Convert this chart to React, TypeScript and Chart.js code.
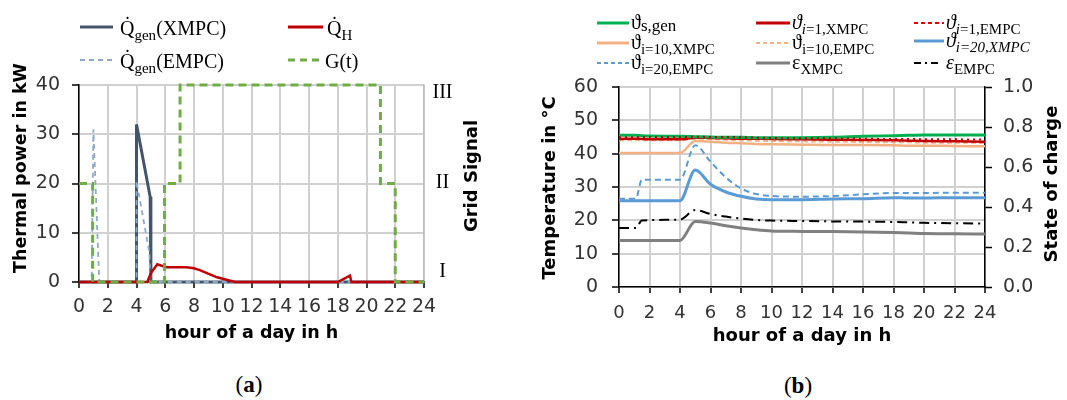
import React, { useEffect, useRef } from "react";
import { Chart, registerables } from "chart.js";

Chart.register(...registerables);

const SANS = "'DejaVu Sans', sans-serif";
const SERIF = "'Liberation Serif', 'DejaVu Serif', serif";

// ---------------- Panel (a): thermal power and grid signal ----------------
const qGenXmpcHours = [0, 4, 4, 4.95, 5.0, 24];
const qGenXmpcKW = [0, 0, 32, 17.3, 0, 0];

const qGenEmpcHours = [0, 0.88, 1.0, 1.41, 4.0, 4.0, 4.9, 4.95, 24];
const qGenEmpcKW = [0, 0, 31, 0, 0, 20.5, 5.9, 0, 0];

const qHHours = [0, 4.75, 5.0, 5.45, 6.05, 7.45, 8.0, 8.4, 8.9, 9.6, 10.2, 10.85, 18.0, 18.85, 18.95, 24];
const qHKW = [0, 0, 1.8, 3.6, 3.0, 3.0, 2.8, 2.4, 1.8, 0.95, 0.5, 0, 0, 1.3, 0, 0];

const gridSignalHours = [0, 0.95, 5.95, 7.03, 20.97, 22.0, 24];
const gridSignalLevel = [2, 1, 2, 3, 2, 1, 1];
const gridSignalLabels = ["I", "II", "III"];

// ---------------- Panel (b): temperatures and state of charge ----------------
const hoursB = [0, 1.1, 1.5, 4, 5, 6, 7, 8, 9, 10, 12, 14, 16, 18, 19, 20, 22, 24];
const tSGen = [45.5, 45.5, 45.4, 45.2, 45.1, 45.0, 44.9, 44.9, 44.8, 44.8, 44.8, 44.9, 45.2, 45.4, 45.5, 45.6, 45.6, 45.6];
const tI1Xmpc = [44.4, 44.5, 44.4, 44.3, 44.8, 44.7, 44.6, 44.5, 44.5, 44.4, 44.3, 44.2, 44.1, 44.0, 43.9, 43.8, 43.7, 43.6];
const tI1Empc = [44.9, 44.9, 44.9, 44.9, 45.1, 45.0, 45.0, 44.9, 44.8, 44.7, 44.6, 44.6, 44.5, 44.4, 44.4, 44.3, 44.3, 44.2];
const tI10Xmpc = [40.2, 40.2, 40.2, 40.2, 43.8, 43.6, 43.3, 43.1, 42.9, 42.8, 42.7, 42.6, 42.6, 42.5, 42.4, 42.4, 42.3, 42.2];
const tI10Empc = [44.0, 44.0, 44.0, 44.0, 44.5, 44.4, 44.2, 44.0, 43.9, 43.8, 43.7, 43.6, 43.5, 43.4, 43.4, 43.3, 43.3, 43.2];
const tI20Xmpc = [25.9, 25.9, 25.9, 25.9, 35.1, 30.8, 28.5, 27.2, 26.4, 26.2, 26.2, 26.4, 26.5, 26.8, 26.7, 26.7, 26.8, 26.8];
const tI20Empc = [26.5, 26.5, 32.2, 32.2, 42.5, 37.6, 32.9, 29.6, 27.9, 27.3, 27.1, 27.3, 27.8, 28.2, 28.2, 28.2, 28.3, 28.3];
const socXmpc = [0.233, 0.233, 0.233, 0.233, 0.328, 0.32, 0.306, 0.295, 0.286, 0.28, 0.278, 0.277, 0.275, 0.272, 0.27, 0.267, 0.266, 0.265];
const socEmpc = [0.295, 0.295, 0.333, 0.337, 0.385, 0.365, 0.352, 0.342, 0.335, 0.332, 0.33, 0.328, 0.327, 0.325, 0.323, 0.321, 0.319, 0.317];

const pts = (xs: number[], ys: number[]) => xs.map((x, i) => ({ x, y: ys[i] }));

type RotTitle = { scale: string; side: "left" | "right"; text: string; size: number; offset: number; dy: number };
const rotTitles = (titles: RotTitle[]) => ({
  id: "rotTitles",
  afterDraw(chart: any) {
    const ctx = chart.ctx;
    const ca = chart.chartArea;
    titles.forEach((t) => {
      const s = chart.scales[t.scale];
      const x = t.side === "left" ? s.left + t.offset : s.right - t.offset;
      const y = (ca.top + ca.bottom) / 2 + t.dy;
      ctx.save();
      ctx.translate(x, y);
      ctx.rotate(-Math.PI / 2);
      ctx.font = `bold ${t.size}px ${SANS}`;
      ctx.fillStyle = "#000";
      ctx.textAlign = "center";
      ctx.textBaseline = "middle";
      ctx.fillText(t.text, 0, 0);
      ctx.restore();
    });
  },
});

const GRID = "#d0d0d0";
const GRID_W = 2;
const TICK = "#333";

function configA(): any {
  return {
    type: "line",
    data: {
      datasets: [
        { label: "G(t)", data: pts(gridSignalHours, gridSignalLevel), yAxisID: "y2", stepped: true, borderColor: "#70ad47", borderWidth: 3, borderDash: [8, 5], pointRadius: 0, clip: false },
        { label: "QH", data: pts(qHHours, qHKW), yAxisID: "y", borderColor: "#c00000", borderWidth: 2.5, pointRadius: 0, clip: false },
        { label: "Qgen(EMPC)", data: pts(qGenEmpcHours, qGenEmpcKW), yAxisID: "y", borderColor: "#8ea9c9", borderWidth: 1.8, borderDash: [5, 4], pointRadius: 0, clip: false },
        { label: "Qgen(XMPC)", data: pts(qGenXmpcHours, qGenXmpcKW), yAxisID: "y", borderColor: "#44546a", borderWidth: 3, pointRadius: 0, clip: false },
      ],
    },
    options: {
      animation: false,
      responsive: false,
      devicePixelRatio: 1,
      layout: { padding: { top: 85, left: 0, right: 16, bottom: 0 } },
      plugins: { legend: { display: false }, tooltip: { enabled: false } },
      scales: {
        x: {
          type: "linear", min: 0, max: 24,
          ticks: { stepSize: 2, font: { family: SANS, size: 19 }, color: TICK, padding: 7.5, maxRotation: 0 },
          grid: { display: true, drawOnChartArea: true, color: GRID, lineWidth: GRID_W, tickColor: "#000", tickWidth: 1.5, tickLength: 6 },
          border: { color: "#000", width: 1.5 },
          title: { display: true, text: "hour of a day in h", font: { family: SANS, size: 17.5, weight: "bold" }, color: "#000", padding: { top: 0, bottom: 6.5 } },
          afterFit: (s: any) => { s.height = 68; },
        },
        y: {
          position: "left", min: 0, max: 40,
          ticks: { stepSize: 5, font: { family: SANS, size: 19 }, color: TICK, padding: 12 },
          grid: { display: true, drawOnChartArea: true, color: GRID, lineWidth: GRID_W, tickColor: "#000", tickWidth: 1.5, tickLength: 7 },
          border: { color: "#000", width: 1.5 },
          afterFit: (s: any) => { s.width = 79; },
        },
        y1: {
          position: "right", min: 0.888, max: 3.089,
          afterBuildTicks: (s: any) => { s.ticks = [{ value: 1 }, { value: 2 }, { value: 3 }]; },
          ticks: { font: { family: SERIF, size: 20 }, color: "#000", padding: 8.5, crossAlign: "center", callback: (v: number) => gridSignalLabels[Math.round(v) - 1] },
          grid: { drawOnChartArea: false, drawTicks: false },
          border: { color: "#bfbfbf", width: 1.5 },
          afterFit: (s: any) => { s.width = 60; },
        },
        y2: { display: false, min: 1, max: 3 },
      },
    },
    plugins: [rotTitles([
      { scale: "y", side: "left", text: "Thermal power in kW", size: 17.5, offset: 21, dy: -15.5 },
      { scale: "y1", side: "right", text: "Grid Signal", size: 18, offset: 12, dy: -7.5 },
    ])],
  };
}

function configB(): any {
  const ds = (label: string, ys: number[], color: string, width: number, dash: number[], axis = "y") => ({
    label, data: pts(hoursB, ys), yAxisID: axis, borderColor: color, borderWidth: width, borderDash: dash,
    pointRadius: 0, cubicInterpolationMode: "monotone", clip: false,
  });
  return {
    type: "line",
    data: {
      datasets: [
        ds("eps EMPC", socEmpc, "#000000", 2, [10, 5, 2, 5], "y1"),
        ds("i=1 EMPC", tI1Empc, "#c00000", 2, [2, 4]),
        ds("s,gen", tSGen, "#00b050", 3, []),
        ds("i=1 XMPC", tI1Xmpc, "#c00000", 2.5, []),
        ds("i=10 EMPC", tI10Empc, "#f4b183", 2, [5, 3]),
        ds("i=10 XMPC", tI10Xmpc, "#f4b183", 2.5, []),
        ds("i=20 EMPC", tI20Empc, "#5b9bd5", 2, [6, 4]),
        ds("i=20 XMPC", tI20Xmpc, "#5b9bd5", 3, []),
        ds("eps XMPC", socXmpc, "#808080", 3, [], "y1"),
      ],
    },
    options: {
      animation: false,
      responsive: false,
      devicePixelRatio: 1,
      layout: { padding: { top: 87, left: 0, right: 0, bottom: 0 } },
      plugins: { legend: { display: false }, tooltip: { enabled: false } },
      scales: {
        x: {
          type: "linear", min: 0, max: 24,
          ticks: { stepSize: 2, font: { family: SANS, size: 18 }, color: TICK, padding: 10, maxRotation: 0 },
          grid: { display: true, drawOnChartArea: true, color: GRID, lineWidth: GRID_W, tickColor: "#000", tickWidth: 1.5, tickLength: 6 },
          border: { color: "#000", width: 1.5 },
          title: { display: true, text: "hour of a day in h", font: { family: SANS, size: 18, weight: "bold" }, color: "#000", padding: { top: 0, bottom: 13 } },
          afterFit: (s: any) => { s.height = 73; },
        },
        y: {
          position: "left", min: 0, max: 60,
          ticks: { stepSize: 10, font: { family: SANS, size: 19 }, color: TICK, padding: 14 },
          grid: { display: true, drawOnChartArea: true, color: GRID, lineWidth: GRID_W, tickColor: "#000", tickWidth: 1.5, tickLength: 7 },
          border: { color: "#000", width: 1.5 },
          afterFit: (s: any) => { s.width = 89; },
        },
        y1: {
          position: "right", min: 0, max: 1,
          ticks: { stepSize: 0.2, font: { family: SANS, size: 19 }, color: TICK, padding: 11, callback: (v: number) => v.toFixed(1) },
          grid: { drawOnChartArea: false, tickColor: "#000", tickWidth: 1.5, tickLength: 7 },
          border: { color: "#000", width: 1.5 },
          afterFit: (s: any) => { s.width = 82; },
        },
      },
    },
    plugins: [rotTitles([
      { scale: "y", side: "left", text: "Temperature in °C", size: 18, offset: 20, dy: 1 },
      { scale: "y1", side: "right", text: "State of charge", size: 18, offset: 15, dy: -3 },
    ])],
  };
}

const Sample = ({ x, y, w, color, lw, dash }: { x: number; y: number; w: number; color: string; lw: number; dash?: string }) => (
  <svg style={{ position: "absolute", left: x, top: y - 6 }} width={w} height={12}>
    <line x1={0} y1={6} x2={w} y2={6} stroke={color} strokeWidth={lw} strokeDasharray={dash} />
  </svg>
);

const Label = ({ x, y, size, children }: { x: number; y: number; size: number; children: any }) => (
  <div style={{ position: "absolute", left: x, top: y - 13, height: 26, lineHeight: "26px", fontFamily: SERIF, fontSize: size, whiteSpace: "nowrap", color: "#000" }}>
    {children}
  </div>
);

const Sub = ({ size, children }: { size: number; children: any }) => (
  <span style={{ fontSize: size, position: "relative", top: 5 }}>{children}</span>
);

export default function App() {
  const refA = useRef<HTMLCanvasElement>(null);
  const refB = useRef<HTMLCanvasElement>(null);

  useEffect(() => {
    document.body.style.margin = "0";
    const a = new Chart(refA.current as HTMLCanvasElement, configA());
    const b = new Chart(refB.current as HTMLCanvasElement, configB());
    return () => {
      a.destroy();
      b.destroy();
    };
  }, []);

  return (
    <div style={{ position: "relative", width: 1067, height: 400, background: "#fff", overflow: "hidden" }}>
      <canvas ref={refA} width={500} height={350} style={{ position: "absolute", left: 0, top: 0, width: 500, height: 350 }} />
      <canvas ref={refB} width={537} height={360} style={{ position: "absolute", left: 530, top: 0, width: 537, height: 360 }} />

      {/* Legend (a) */}
      <Sample x={80} y={27} w={33} color="#44546a" lw={3} />
      <Label x={120} y={28} size={20}>Q&#775;<Sub size={15}>gen</Sub>(XMPC)</Label>
      <Sample x={288} y={27} w={35} color="#c00000" lw={3} />
      <Label x={327} y={28} size={20}>Q&#775;<Sub size={15}>H</Sub></Label>
      <Sample x={80} y={60} w={35} color="#8ea9c9" lw={2} dash="5,4" />
      <Label x={120} y={61} size={20}>Q&#775;<Sub size={15}>gen</Sub>(EMPC)</Label>
      <Sample x={288} y={60} w={34} color="#70ad47" lw={3} dash="7,5" />
      <Label x={325} y={61} size={20}>G(t)</Label>

      {/* Legend (b) */}
      <Sample x={597} y={23} w={32} color="#00b050" lw={3} />
      <Label x={631} y={22} size={20}>ϑ<span style={{ fontSize: 17, position: "relative", top: 2 }}>s,gen</span></Label>
      <Sample x={756} y={23} w={34} color="#c00000" lw={3} />
      <Label x={792} y={22} size={20}><i>ϑ</i><Sub size={15}><i>i</i>=1,XMPC</Sub></Label>
      <Sample x={914} y={23} w={30} color="#e00000" lw={2} dash="4,3" />
      <Label x={946} y={22} size={20}><i>ϑ</i><Sub size={15}><i>i</i>=1,EMPC</Sub></Label>

      <Sample x={597} y={43} w={32} color="#f4b183" lw={3} />
      <Label x={631} y={42} size={20}>ϑ<Sub size={15}>i=10,XMPC</Sub></Label>
      <Sample x={756} y={43} w={34} color="#f4b183" lw={2} dash="4,3" />
      <Label x={792} y={42} size={20}>ϑ<Sub size={15}>i=10,EMPC</Sub></Label>
      <Sample x={914} y={41} w={30} color="#5b9bd5" lw={3} />
      <Label x={946} y={40} size={20}><i>ϑ</i><Sub size={15}><i>i=20,XMPC</i></Sub></Label>

      <Sample x={597} y={63} w={32} color="#5b9bd5" lw={2} dash="4,3" />
      <Label x={631} y={62} size={20}>ϑ<Sub size={15}>i=20,EMPC</Sub></Label>
      <Sample x={756} y={63} w={34} color="#808080" lw={3} />
      <Label x={792} y={62} size={20}>ε<Sub size={15}>XMPC</Sub></Label>
      <Sample x={914} y={63} w={26} color="#000" lw={2} dash="7,4,2,4" />
      <Label x={946} y={62} size={20}><i>ε</i><Sub size={15}>EMPC</Sub></Label>

      {/* Captions */}
      <div style={{ position: "absolute", left: 249, top: 372, transform: "translateX(-50%)", fontFamily: SERIF, fontSize: 23, lineHeight: "26px" }}>
        (<b>a</b>)
      </div>
      <div style={{ position: "absolute", left: 798, top: 373, transform: "translateX(-50%)", fontFamily: SERIF, fontSize: 23, lineHeight: "26px" }}>
        (<b>b</b>)
      </div>
    </div>
  );
}
